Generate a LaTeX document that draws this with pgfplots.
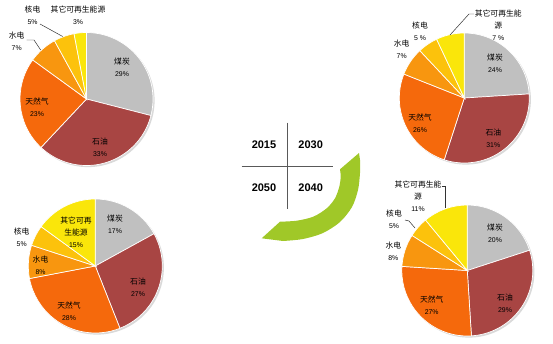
\documentclass[border=0pt]{standalone}
\usepackage{pgfplots}
\pgfplotsset{compat=1.18}
\usepackage{pgfplotstable}
\usepackage{fontspec}
\setmainfont{Liberation Sans}
\newfontfamily\cjk{Noto Sans CJK SC}

\definecolor{pie0}{HTML}{C0C0C0}
\definecolor{pie1}{HTML}{A84543}
\definecolor{pie2}{HTML}{F5690C}
\definecolor{pie3}{HTML}{F8960F}
\definecolor{pie4}{HTML}{FCC20C}
\definecolor{pie5}{HTML}{FAE60A}
\definecolor{arrowgreen}{HTML}{A0C828}
\definecolor{linegray}{HTML}{595959}

% 2015
\pgfplotstableread{
v
29
33
23
7
5
3
}\dataA
% 2030
\pgfplotstableread{
v
24
31
26
7
5
7
}\dataB
% 2040
\pgfplotstableread{
v
20
29
27
8
5
11
}\dataC
% 2050
\pgfplotstableread{
v
17
27
28
8
5
15
}\dataD

\newcommand\drawpie[4]{%
  \fill[black!15] ([shift={(1.6bp,-1.6bp)}]axis cs:#2,#3) circle[radius=#4];
  \gdef\curangle{90}%
  \pgfplotsforeachungrouped \i in {0,...,5}{%
    \pgfplotstablegetelem{\i}{v}\of#1%
    \pgfmathsetmacro\endangle{\curangle-3.6*\pgfplotsretval}%
    \fill[pie\i, draw=white, line width=0.7pt] (axis cs:#2,#3) -- ++(\curangle:#4)
      arc[start angle=\curangle, end angle=\endangle, radius=#4] -- cycle;
    \global\let\curangle\endangle
  }%
}
\newcommand\cn{\cjk\fontsize{7.8bp}{11bp}\selectfont}
\newcommand\nm{\fontsize{6.9bp}{11bp}\selectfont}

\begin{document}
\begin{tikzpicture}
\useasboundingbox (0,0) rectangle (553bp,344bp);
\begin{axis}[at={(0bp,344bp)}, anchor=origin, x=1bp, y=1bp,
  xmin=0, xmax=553, ymin=0, ymax=344, y dir=reverse,
  hide axis, clip=false]

% center graphic
\fill[arrowgreen] (axis cs:359,153) -- plot[smooth] coordinates {(axis cs:360,160) (axis cs:360,173) (axis cs:358,190) (axis cs:352,207) (axis cs:340,222) (axis cs:323,233) (axis cs:303,239) (axis cs:283,241)} -- (axis cs:261.7,238.3) -- plot[smooth] coordinates {(axis cs:280,221.7) (axis cs:296.7,220.7) (axis cs:313.3,216.7) (axis cs:326.7,208.3) (axis cs:335,198.3) (axis cs:339.3,186.7) (axis cs:340.7,176.7) (axis cs:340,169.3)} -- cycle;
\draw[linegray, line width=0.6pt] (axis cs:287.7,122.7) -- (axis cs:287.7,209);
\draw[linegray, line width=0.6pt] (axis cs:241.7,166.7) -- (axis cs:333,166.7);
\begin{scope}[every node/.style={font=\bfseries\fontsize{11bp}{12bp}\selectfont, inner sep=0}]
\node at (axis cs:264,145) {2015};
\node at (axis cs:310.7,145) {2030};
\node at (axis cs:264,188) {2050};
\node at (axis cs:310.7,188) {2040};
\end{scope}

\pgfplotsextra{%
  \drawpie{\dataA}{86.5}{99}{66.5bp}%
  \drawpie{\dataB}{464.3}{98}{65bp}%
  \drawpie{\dataC}{467.3}{270.5}{65.5bp}%
  \drawpie{\dataD}{95.3}{266}{67bp}%
}

\begin{scope}[every node/.style={align=center, inner sep=0}]
% 2015
\node at (axis cs:122,67.5) {{\cn 煤炭}\\{\nm 29\%}};
\node at (axis cs:100,147) {{\cn 石油}\\{\nm 33\%}};
\node at (axis cs:37,107.5) {{\cn 天然气}\\{\nm 23\%}};
\node at (axis cs:16.7,41.5) {{\cn 水电}\\{\nm 7\%}};
\node at (axis cs:32.5,15.2) {{\cn 核电}\\{\nm 5\%}};
\node at (axis cs:78,15.2) {{\cn 其它可再生能源}\\{\nm 3\%}};
% 2030
\node at (axis cs:495,63) {{\cn 煤炭}\\{\nm 24\%}};
\node at (axis cs:493.3,138.5) {{\cn 石油}\\{\nm 31\%}};
\node at (axis cs:420,123) {{\cn 天然气}\\{\nm 26\%}};
\node at (axis cs:401.7,49) {{\cn 水电}\\{\nm 7\%}};
\node at (axis cs:420,31) {{\cn 核电}\\{\nm 5 \%}};
\node at (axis cs:498.3,25) {{\cn 其它可再生能}\\{\cn 源}\\{\nm 7 \%}};
% 2040
\node at (axis cs:495,233) {{\cn 煤炭}\\{\nm 20\%}};
\node at (axis cs:505,303.5) {{\cn 石油}\\{\nm 29\%}};
\node at (axis cs:431.7,305) {{\cn 天然气}\\{\nm 27\%}};
\node at (axis cs:393.3,251.5) {{\cn 水电}\\{\nm 8\%}};
\node at (axis cs:394,219.5) {{\cn 核电}\\{\nm 5\%}};
\node at (axis cs:418,196.2) {{\cn 其它可再生能}\\{\cn 源}\\{\nm 11\%}};
% 2050
\node at (axis cs:115,224.5) {{\cn 煤炭}\\{\nm 17\%}};
\node at (axis cs:138,287.5) {{\cn 石油}\\{\nm 27\%}};
\node at (axis cs:69,311.7) {{\cn 天然气}\\{\nm 28\%}};
\node at (axis cs:40.5,265.7) {{\cn 水电}\\{\nm 8\%}};
\node at (axis cs:21.7,237.2) {{\cn 核电}\\{\nm 5\%}};
\node at (axis cs:76,232.2) {{\cn 其它可再}\\{\cn 生能源}\\{\nm 15\%}};
\end{scope}

% leader lines
\begin{scope}[line width=0.5pt, black!80]
\draw (axis cs:26.7,40) -- (axis cs:34,40) -- (axis cs:40.7,50);
\draw (axis cs:40,24) -- (axis cs:62.7,36.5);
\draw (axis cs:474,14) -- (axis cs:469,14) -- (axis cs:450,35);
\draw (axis cs:405,220) -- (axis cs:409,221) -- (axis cs:415,228);
\draw (axis cs:441.5,186) -- (axis cs:445,186) -- (axis cs:445,208);
\end{scope}
\end{axis}
\end{tikzpicture}
\end{document}
